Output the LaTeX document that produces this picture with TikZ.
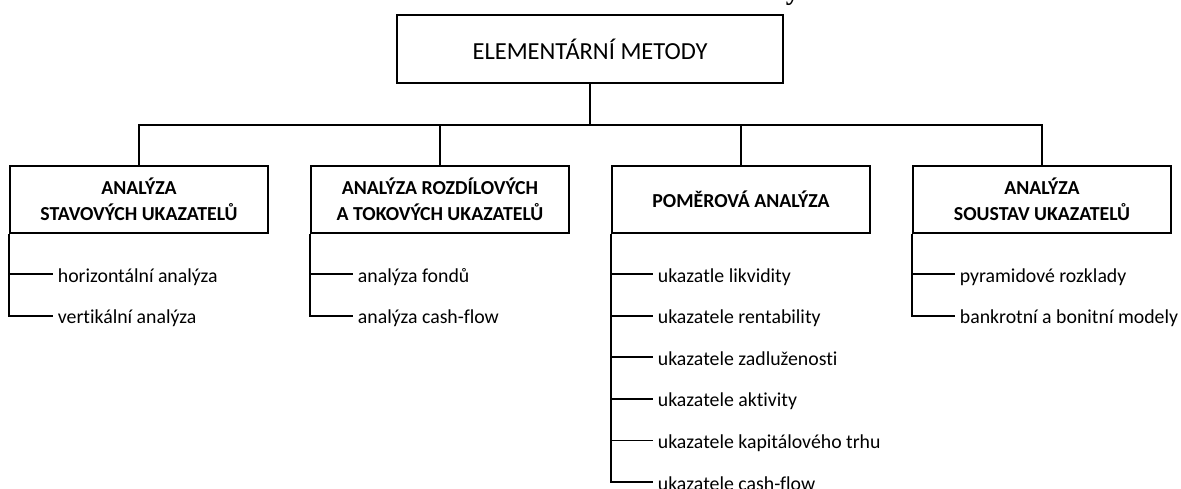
\documentclass[tikz,border=0pt]{standalone}
\usepackage{fontspec}
\setmainfont[Ligatures={TeX,NoCommon}]{Carlito}
\newfontfamily\headserif{Liberation Serif}
\begin{document}
\begin{tikzpicture}[x=1pt,y=-1pt,
  line width=1.8pt,
  topbox/.style={draw, line width=1.8pt, minimum width=386pt, minimum height=68pt, inner sep=0pt,
    font=\fontsize{24.5}{28}\selectfont},
  catbox/.style={draw, line width=1.8pt, minimum width=258pt, minimum height=67pt, inner sep=0pt,
    align=center, font=\fontsize{19.8}{26}\selectfont\bfseries},
  leaf/.style={anchor=west, inner xsep=4pt, inner ysep=0pt, text height=16pt, text depth=0pt,
    font=\fontsize{19.8}{24}\selectfont},
  conn/.style={draw, line width=1.8pt}
]
\useasboundingbox (0,0) rectangle (1181,488);
\node[anchor=base west, inner sep=0pt, font=\fontsize{28}{28}\selectfont\headserif\bfseries] (frag) at (785,-1) {y};

\node[topbox] (top) at (590,49) {ELEMENTÁRNÍ METODY};
\coordinate (bus) at (590,125);

\node[catbox] (b1) at (139,199.5) {ANALÝZA\\STAVOVÝCH UKAZATELŮ};
\node[catbox] (b2) at (440,199.5) {ANALÝZA ROZDÍLOVÝCH\\A TOKOVÝCH UKAZATELŮ};
\node[catbox] (b3) at (741,199.5) {POMĚROVÁ ANALÝZA};
\node[catbox] (b4) at (1042,199.5) {ANALÝZA\\SOUSTAV UKAZATELŮ};

\draw[conn] (top.south) -- (bus);
\draw[conn] (bus) -| (b1.north);
\draw[conn] (bus) -| (b2.north);
\draw[conn] (bus) -| (b3.north);
\draw[conn] (bus) -| (b4.north);

% leaves of b1
\node[leaf] (l11) at (53,274) {horizontální analýza};
\node[leaf] (l12) at (53,315.6) {vertikální analýza};
% leaves of b2
\node[leaf] (l21) at (353,274) {analýza fondů};
\node[leaf] (l22) at (353,315.6) {analýza cash-flow};
% leaves of b3
\node[leaf] (l31) at (653,274) {ukazatle likvidity};
\node[leaf] (l32) at (653,315.6) {ukazatele rentability};
\node[leaf] (l33) at (653,357.2) {ukazatele zadluženosti};
\node[leaf] (l34) at (653,398.8) {ukazatele aktivity};
\node[leaf] (l35) at (653,440.4) {ukazatele kapitálového trhu};
\node[leaf] (l36) at (653,482) {ukazatele cash-flow};
% leaves of b4
\node[leaf] (l41) at (955,274) {pyramidové rozklady};
\node[leaf] (l42) at (955,315.6) {bankrotní a bonitní modely};

\draw[conn] (b1.south west) |- (l12.west);
\draw[conn] (b1.south west |- l11.west) -- (l11.west);
\draw[conn] (b2.south west) |- (l22.west);
\draw[conn] (b2.south west |- l21.west) -- (l21.west);
\draw[conn] (b3.south west) |- (l36.west);
\foreach \n in {l31,l32,l33,l34,l35}{
  \draw[conn] (b3.south west |- \n.west) -- (\n.west);
}
\draw[conn] (b4.south west) |- (l42.west);
\draw[conn] (b4.south west |- l41.west) -- (l41.west);
\end{tikzpicture}
\end{document}
